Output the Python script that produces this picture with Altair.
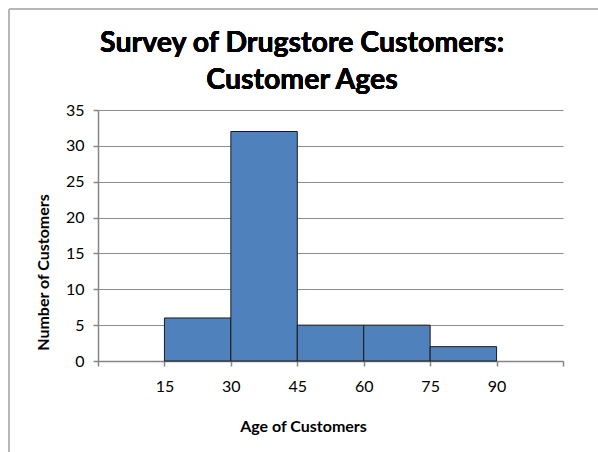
import altair as alt
import pandas as pd

bin_start = [15, 30, 45, 60, 75]
bin_end = [30, 45, 60, 75, 90]
counts = [6, 32, 5, 5, 2]
x_ticks = [0, 15, 30, 45, 60, 75, 90, 105]
y_ticks = [0, 5, 10, 15, 20, 25, 30, 35]
title_lines = ["Survey of Drugstore Customers:", "Customer Ages"]

df = pd.DataFrame({"start": bin_start, "end": bin_end, "count": counts,
                   "base": [0] * len(counts)})

W, H = 465, 251

bars = alt.Chart(df).mark_bar(
    color="#4f81bd", stroke="#1a1a1a", strokeWidth=1
).encode(
    x=alt.X("start:Q", scale=alt.Scale(domain=[0, 105], nice=False, zero=False),
            axis=alt.Axis(values=x_ticks, grid=False, title="Age of Customers",
                          labelExpr="(datum.value == 0 || datum.value == 105) ? '' : datum.label",
                          tickSize=5, labelPadding=12, labelFontSize=16,
                          titleX=205, titleY=70, titleBaseline="alphabetic",
                          titleAlign="center", titleAnchor="start")),
    x2="end:Q",
    y=alt.Y("count:Q", scale=alt.Scale(domain=[0, 35], nice=False),
            axis=alt.Axis(values=y_ticks, grid=True, title="Number of Customers",
                          tickSize=5, labelPadding=9, labelFontSize=16,
                          titleX=-55, titleY=162, titleAngle=270,
                          titleAlign="center", titleBaseline="middle",
                          titleAnchor="start")),
    y2="base:Q",
)

frame_v = alt.Chart(df).mark_rule(color="#b4b4b4", strokeWidth=1).encode(
    x=alt.value(-89), y=alt.value(-101), y2=alt.value(H + 100)
)
frame_h = alt.Chart(df).mark_rule(color="#b4b4b4", strokeWidth=1).encode(
    x=alt.value(-89), x2=alt.value(W + 40), y=alt.value(-101)
)

t1 = alt.Chart(df).mark_text(
    text=title_lines[0], font="Lato", fontSize=28.5, fontWeight="bold",
    color="#000000", align="center", baseline="middle"
).encode(x=alt.value(204), y=alt.value(-67))
t2 = alt.Chart(df).mark_text(
    text=title_lines[1], font="Lato", fontSize=28.5, fontWeight="bold",
    color="#000000", align="center", baseline="middle"
).encode(x=alt.value(204), y=alt.value(-30))

chart = alt.layer(bars, frame_v, frame_h, t1, t2).properties(
    width=W, height=H,
    padding={"left": 98, "top": 110, "right": 35, "bottom": 91},
    autosize=alt.AutoSizeParams(type="none"),
    background="white",
).configure_view(stroke=None).configure_axis(
    labelFont="Lato", titleFont="Lato", labelColor="#000000", titleColor="#000000",
    titleFontSize=16, titleFontWeight="bold",
    domainColor="#868686", domainWidth=1.5, tickColor="#868686", tickWidth=1.5,
    gridColor="#8c8c8c", gridWidth=1,
)

chart.save("out.html", embed_options={"renderer": "svg", "actions": False})
